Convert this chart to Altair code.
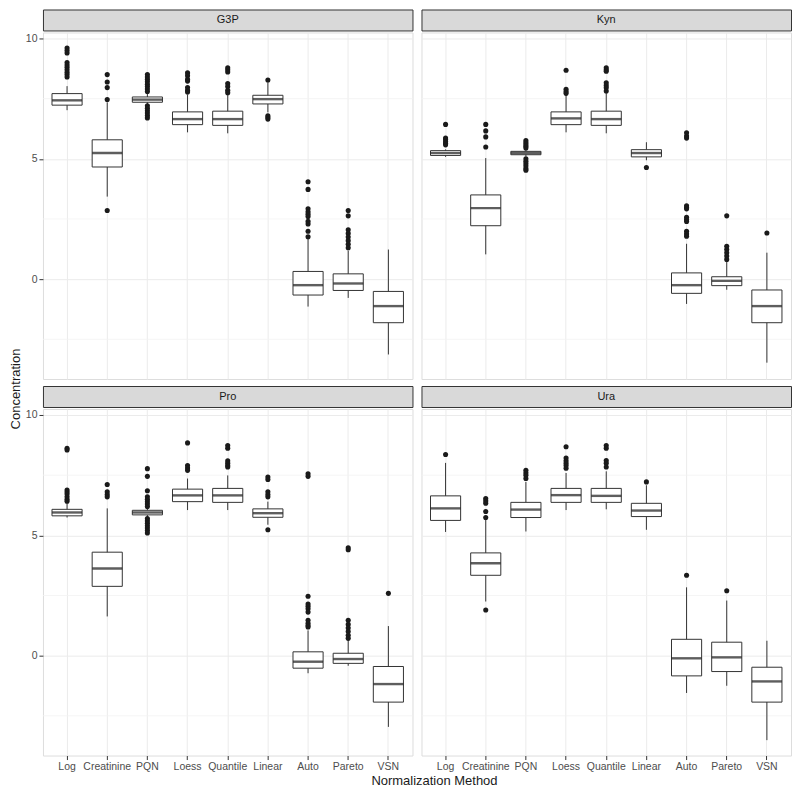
import altair as alt
import pandas as pd

METHODS = ["Log", "Creatinine", "PQN", "Loess", "Quantile", "Linear", "Auto", "Pareto", "VSN"]
Y_TICKS = [0, 5, 10]
Y_MINOR = [-2.5, 2.5, 7.5]

# ---- G3P ----
G3P_LOW = [7.02, 3.43, 7.15, 6.10, 6.06, 6.93, -1.14, -0.78, -3.13]
G3P_Q1 = [7.23, 4.66, 7.35, 6.42, 6.39, 7.28, -0.66, -0.47, -1.81]
G3P_MED = [7.43, 5.24, 7.46, 6.65, 6.65, 7.48, -0.25, -0.18, -1.12]
G3P_Q3 = [7.71, 5.79, 7.57, 6.95, 6.98, 7.64, 0.32, 0.22, -0.51]
G3P_HIGH = [8.02, 7.34, 7.75, 7.68, 7.72, 8.16, 1.71, 1.17, 1.23]
G3P_OUT = {
    "Log": [9.6, 9.5, 9.4, 9.0, 8.9, 8.8, 8.7, 8.6, 8.5, 8.4],
    "Creatinine": [8.5, 8.19, 7.96, 7.46, 2.85],
    "PQN": [8.5, 8.4, 8.3, 8.2, 8.1, 8.0, 7.9, 7.8, 7.2, 7.1, 7.0, 6.9, 6.8, 6.7],
    "Loess": [8.57, 8.45, 8.3, 8.23, 7.96, 7.85, 7.78],
    "Quantile": [8.78, 8.7, 8.61, 8.13, 8.0, 7.85, 7.75],
    "Linear": [8.27, 6.79, 6.72, 6.65],
    "Auto": [4.05, 3.73, 2.92, 2.8, 2.7, 2.6, 2.4, 2.29, 1.99, 1.76],
    "Pareto": [2.85, 2.63, 2.05, 1.9, 1.75, 1.6, 1.45, 1.3],
    "VSN": [],
}

# ---- Kyn ----
KYN_LOW = [5.08, 1.03, 5.10, 6.10, 6.06, 4.94, -1.03, -0.44, -3.47]
KYN_Q1 = [5.14, 2.22, 5.17, 6.42, 6.39, 5.08, -0.59, -0.27, -1.81]
KYN_MED = [5.24, 2.95, 5.24, 6.68, 6.65, 5.24, -0.25, -0.07, -1.12]
KYN_Q3 = [5.34, 3.50, 5.31, 6.95, 6.98, 5.38, 0.26, 0.10, -0.45]
KYN_HIGH = [5.39, 5.03, 5.40, 7.68, 7.78, 5.69, 1.47, 0.75, 1.10]
KYN_OUT = {
    "Log": [6.43, 5.86, 5.8, 5.72, 5.65, 5.58],
    "Creatinine": [6.43, 6.16, 5.91, 5.49],
    "PQN": [5.76, 5.68, 5.6, 5.52, 5.45, 5.0, 4.9, 4.8, 4.7, 4.6, 4.53],
    "Loess": [8.68, 7.89, 7.8, 7.72],
    "Quantile": [8.78, 8.7, 8.64, 8.16, 8.05, 7.95, 7.82],
    "Linear": [4.64],
    "Auto": [6.08, 5.95, 5.86, 3.05, 2.98, 2.92, 2.57, 2.48, 2.4, 1.99, 1.88, 1.78],
    "Pareto": [2.63, 1.37, 1.23, 1.1, 0.96, 0.82],
    "VSN": [1.92],
}

# ---- Pro ----
PRO_LOW = [5.74, 1.63, 5.75, 6.05, 6.05, 5.44, -0.73, -0.42, -2.96]
PRO_Q1 = [5.81, 2.88, 5.85, 6.40, 6.37, 5.75, -0.52, -0.32, -1.93]
PRO_MED = [5.95, 3.62, 5.95, 6.66, 6.66, 5.92, -0.25, -0.14, -1.18]
PRO_Q3 = [6.08, 4.30, 6.04, 6.92, 6.95, 6.10, 0.16, 0.10, -0.45]
PRO_HIGH = [6.33, 6.12, 6.15, 7.36, 7.49, 6.40, 1.05, 0.64, 1.23]
PRO_OUT = {
    "Log": [8.62, 8.55, 6.88, 6.8, 6.72, 6.6, 6.5, 6.42],
    "Creatinine": [7.11, 6.81, 6.7, 6.6],
    "PQN": [7.77, 7.45, 6.85, 6.6, 6.5, 6.4, 6.3, 6.2, 5.7, 5.6, 5.5, 5.4, 5.3, 5.2, 5.1],
    "Loess": [8.84, 7.9, 7.8, 7.7],
    "Quantile": [8.73, 8.62, 8.1, 8.0, 7.9, 7.84],
    "Linear": [7.42, 7.32, 6.81, 6.7, 6.6, 5.23],
    "Auto": [7.56, 7.45, 2.47, 2.15, 2.05, 1.95, 1.81, 1.47, 1.35, 1.25, 1.19],
    "Pareto": [4.48, 4.4, 1.47, 1.3, 1.15, 1.0, 0.85, 0.72],
    "VSN": [2.59],
}

# ---- Ura ----
URA_LOW = [5.14, 2.25, 5.16, 6.05, 6.08, 5.23, -1.55, -1.25, -3.51]
URA_Q1 = [5.62, 3.34, 5.74, 6.37, 6.37, 5.78, -0.84, -0.66, -1.93]
URA_MED = [6.12, 3.84, 6.07, 6.67, 6.64, 6.03, -0.11, -0.07, -1.07]
URA_Q3 = [6.64, 4.27, 6.37, 6.95, 6.95, 6.33, 0.68, 0.56, -0.48]
URA_HIGH = [8.01, 5.64, 7.22, 7.59, 7.66, 7.08, 2.84, 2.29, 0.62]
URA_OUT = {
    "Log": [8.36],
    "Creatinine": [6.53, 6.43, 6.33, 5.99, 5.74, 1.9],
    "PQN": [7.7, 7.6, 7.5, 7.36],
    "Loess": [8.68, 8.21, 8.1, 8.0, 7.9, 7.79],
    "Quantile": [8.73, 8.62, 8.11, 8.0, 7.84],
    "Linear": [7.22],
    "Auto": [3.34],
    "Pareto": [2.70],
    "VSN": [],
}

PANEL_W = 370
PANEL_H = 347
STRIP_H = 21
Y_DOMAIN = [-4.15, 10.25]
FONT = "Liberation Sans"
DARK = "#333333"


def panel(name, low, q1, med, q3, high, outliers, show_x, show_y):
    box = pd.DataFrame({"method": METHODS, "low": low, "q1": q1, "med": med, "q3": q3, "high": high})
    out_rows = [(m, v) for m in METHODS for v in outliers[m]]
    out = pd.DataFrame(out_rows, columns=["method", "value"])
    minor = pd.DataFrame({"y": Y_MINOR})

    xscale = alt.Scale(domain=METHODS, paddingInner=0.25, paddingOuter=0.225)
    yscale = alt.Scale(domain=Y_DOMAIN, nice=False, zero=False)
    xaxis = alt.Axis(
        title=None, labels=show_x, ticks=show_x, domain=False, grid=True,
        gridColor="#ebebeb", labelAngle=0, labelFontSize=10.5, labelColor="#4d4d4d",
        labelFont=FONT, tickColor=DARK, tickSize=4, labelPadding=2,
    )
    yaxis = alt.Axis(
        title=None, values=Y_TICKS, labels=show_y, ticks=show_y, domain=False, grid=True,
        gridColor="#ebebeb", labelFontSize=10.5, labelColor="#4d4d4d", labelFont=FONT,
        tickColor=DARK, tickSize=4, labelPadding=2,
    )

    x = alt.X("method:N", scale=xscale, axis=xaxis, sort=METHODS)
    xq = alt.X("method:N", scale=xscale, sort=METHODS)

    grid = alt.Chart(minor).mark_rule(color="#f3f3f3", strokeWidth=0.8).encode(
        y=alt.Y("y:Q", scale=yscale)
    )
    whisk = alt.Chart(box).mark_rule(color=DARK, strokeWidth=1).encode(
        x=x, y=alt.Y("low:Q", scale=yscale, axis=yaxis), y2="high:Q"
    )
    bars = alt.Chart(box).mark_bar(fill="white", stroke=DARK, strokeWidth=1).encode(
        x=xq, y=alt.Y("q1:Q", scale=yscale), y2="q3:Q"
    )
    meds = alt.Chart(box).mark_tick(color="#1a1a1a", size=30, thickness=2.4).encode(
        x=xq, y=alt.Y("med:Q", scale=yscale)
    )
    pts = alt.Chart(out).mark_circle(color="#1a1a1a", size=26, opacity=1).encode(
        x=xq, y=alt.Y("value:Q", scale=yscale)
    )
    plot = alt.layer(grid, whisk, bars, meds, pts).properties(
        width=PANEL_W, height=PANEL_H
    )

    strip = alt.Chart(pd.DataFrame({"name": [name]})).mark_text(
        fontSize=11, color="#1a1a1a", font=FONT, baseline="middle"
    ).encode(
        text="name:N", x=alt.value(PANEL_W / 2), y=alt.value(STRIP_H / 2 + 0.5)
    ).properties(
        width=PANEL_W, height=STRIP_H,
        view=alt.ViewBackground(fill="#d9d9d9", stroke=DARK, strokeWidth=1),
    )
    return alt.vconcat(strip, plot, spacing=0)


p1 = panel("G3P", G3P_LOW, G3P_Q1, G3P_MED, G3P_Q3, G3P_HIGH, G3P_OUT, False, True)
p2 = panel("Kyn", KYN_LOW, KYN_Q1, KYN_MED, KYN_Q3, KYN_HIGH, KYN_OUT, False, False)
p3 = panel("Pro", PRO_LOW, PRO_Q1, PRO_MED, PRO_Q3, PRO_HIGH, PRO_OUT, True, True)
p4 = panel("Ura", URA_LOW, URA_Q1, URA_MED, URA_Q3, URA_HIGH, URA_OUT, True, False)

row1 = alt.hconcat(p1, p2, spacing=7)
row2 = alt.hconcat(p3, p4, spacing=7)
rows = alt.vconcat(row1, row2, spacing=5)

xtitle = alt.Chart(pd.DataFrame({"t": ["Normalization Method"]})).mark_text(
    fontSize=13, color="#1a1a1a", font=FONT, baseline="middle"
).encode(text="t:N", x=alt.value(392), y=alt.value(8)).properties(
    width=400, height=14, view=alt.ViewBackground(strokeWidth=0)
)

main = alt.vconcat(rows, xtitle, spacing=0)

ytitle = alt.Chart(pd.DataFrame({"t": ["Concentration"]})).mark_text(
    fontSize=13, color="#1a1a1a", font=FONT, angle=270, baseline="middle"
).encode(text="t:N", x=alt.value(8), y=alt.value(380)).properties(
    width=16, height=740, view=alt.ViewBackground(strokeWidth=0)
)

chart = alt.hconcat(ytitle, main, spacing=0).properties(
    padding={"left": 0, "top": 0, "right": 0, "bottom": 0}
).configure_view(stroke=DARK, strokeWidth=1).configure(background="white")

chart.save("out.html", embed_options={"renderer": "svg", "actions": False})
